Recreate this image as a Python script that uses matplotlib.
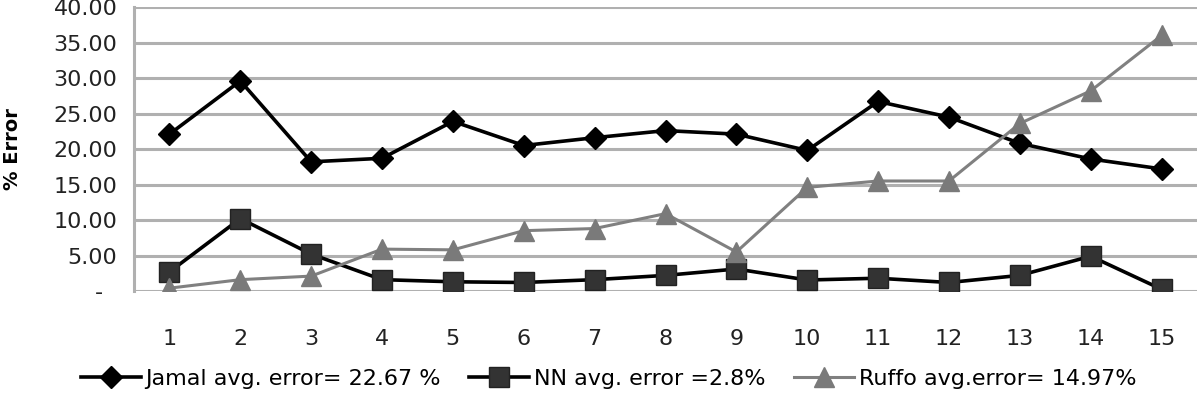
import matplotlib
matplotlib.use("Agg")
import matplotlib.pyplot as plt

plt.rcParams['font.family'] = ['DejaVu Sans']

cases = list(range(1, 16))
jamal = [22.1, 29.6, 18.2, 18.7, 23.9, 20.5, 21.6, 22.6, 22.1, 19.8, 26.7, 24.5, 20.8, 18.6, 17.2]
nn = [2.7, 10.2, 5.2, 1.6, 1.3, 1.2, 1.6, 2.2, 3.1, 1.55, 1.8, 1.2, 2.2, 4.9, 0.25]
ruffo = [0.4, 1.6, 2.1, 5.9, 5.8, 8.5, 8.8, 10.9, 5.5, 14.6, 15.5, 15.5, 23.6, 28.2, 36.0]
labels = ["Jamal avg. error= 22.67 %", "NN avg. error =2.8%", "Ruffo avg.error= 14.97%"]
yticks = [0, 5, 10, 15, 20, 25, 30, 35, 40]
ytick_labels = ["-  "] + [f"{v:.2f}" for v in yticks[1:]]

fig = plt.figure(figsize=(12, 3.94), dpi=100)
ax = fig.add_axes([0.1117, 0.2614, 0.8858, 0.7206])

ax.plot(cases, jamal, color='black', lw=2.6, marker='D', markersize=11,
        markerfacecolor='black', markeredgecolor='black', label=labels[0], zorder=3)
ax.plot(cases, nn, color='black', lw=2.6, marker='s', markersize=14,
        markerfacecolor='#333333', markeredgecolor='#222222', label=labels[1], zorder=3)
ax.plot(cases, ruffo, color='#808080', lw=2.2, marker='^', markersize=14,
        markerfacecolor='#7a7a7a', markeredgecolor='#7a7a7a', label=labels[2], zorder=3)

ax.set_xlim(0.5, 15.5)
ax.set_ylim(0, 40)
ax.set_yticks(yticks)
ax.set_yticklabels(ytick_labels)
ax.set_xticks(cases)
ax.set_xticklabels([str(c) for c in cases])
ax.yaxis.grid(True, color='#b0b0b0', lw=2.2)
ax.set_axisbelow(True)
for s in ['top', 'right', 'bottom']:
    ax.spines[s].set_visible(False)
ax.spines['left'].set_color('#b0b0b0')
ax.spines['left'].set_linewidth(2.2)
ax.tick_params(axis='both', length=0, labelsize=16, colors='#222222')
ax.tick_params(axis='y', pad=12)
ax.tick_params(axis='x', pad=27)
ax.set_ylabel("% Error", fontsize=14, fontweight='bold', va='center')
ax.yaxis.set_label_coords(-0.114, 0.5)

fig.legend(loc='center', bbox_to_anchor=(0.507, 0.038), ncol=3, frameon=False,
           fontsize=16, handlelength=2.7, handletextpad=0.2, columnspacing=1.3,
           borderaxespad=0, borderpad=0)

fig.savefig("out.png", dpi=100)
